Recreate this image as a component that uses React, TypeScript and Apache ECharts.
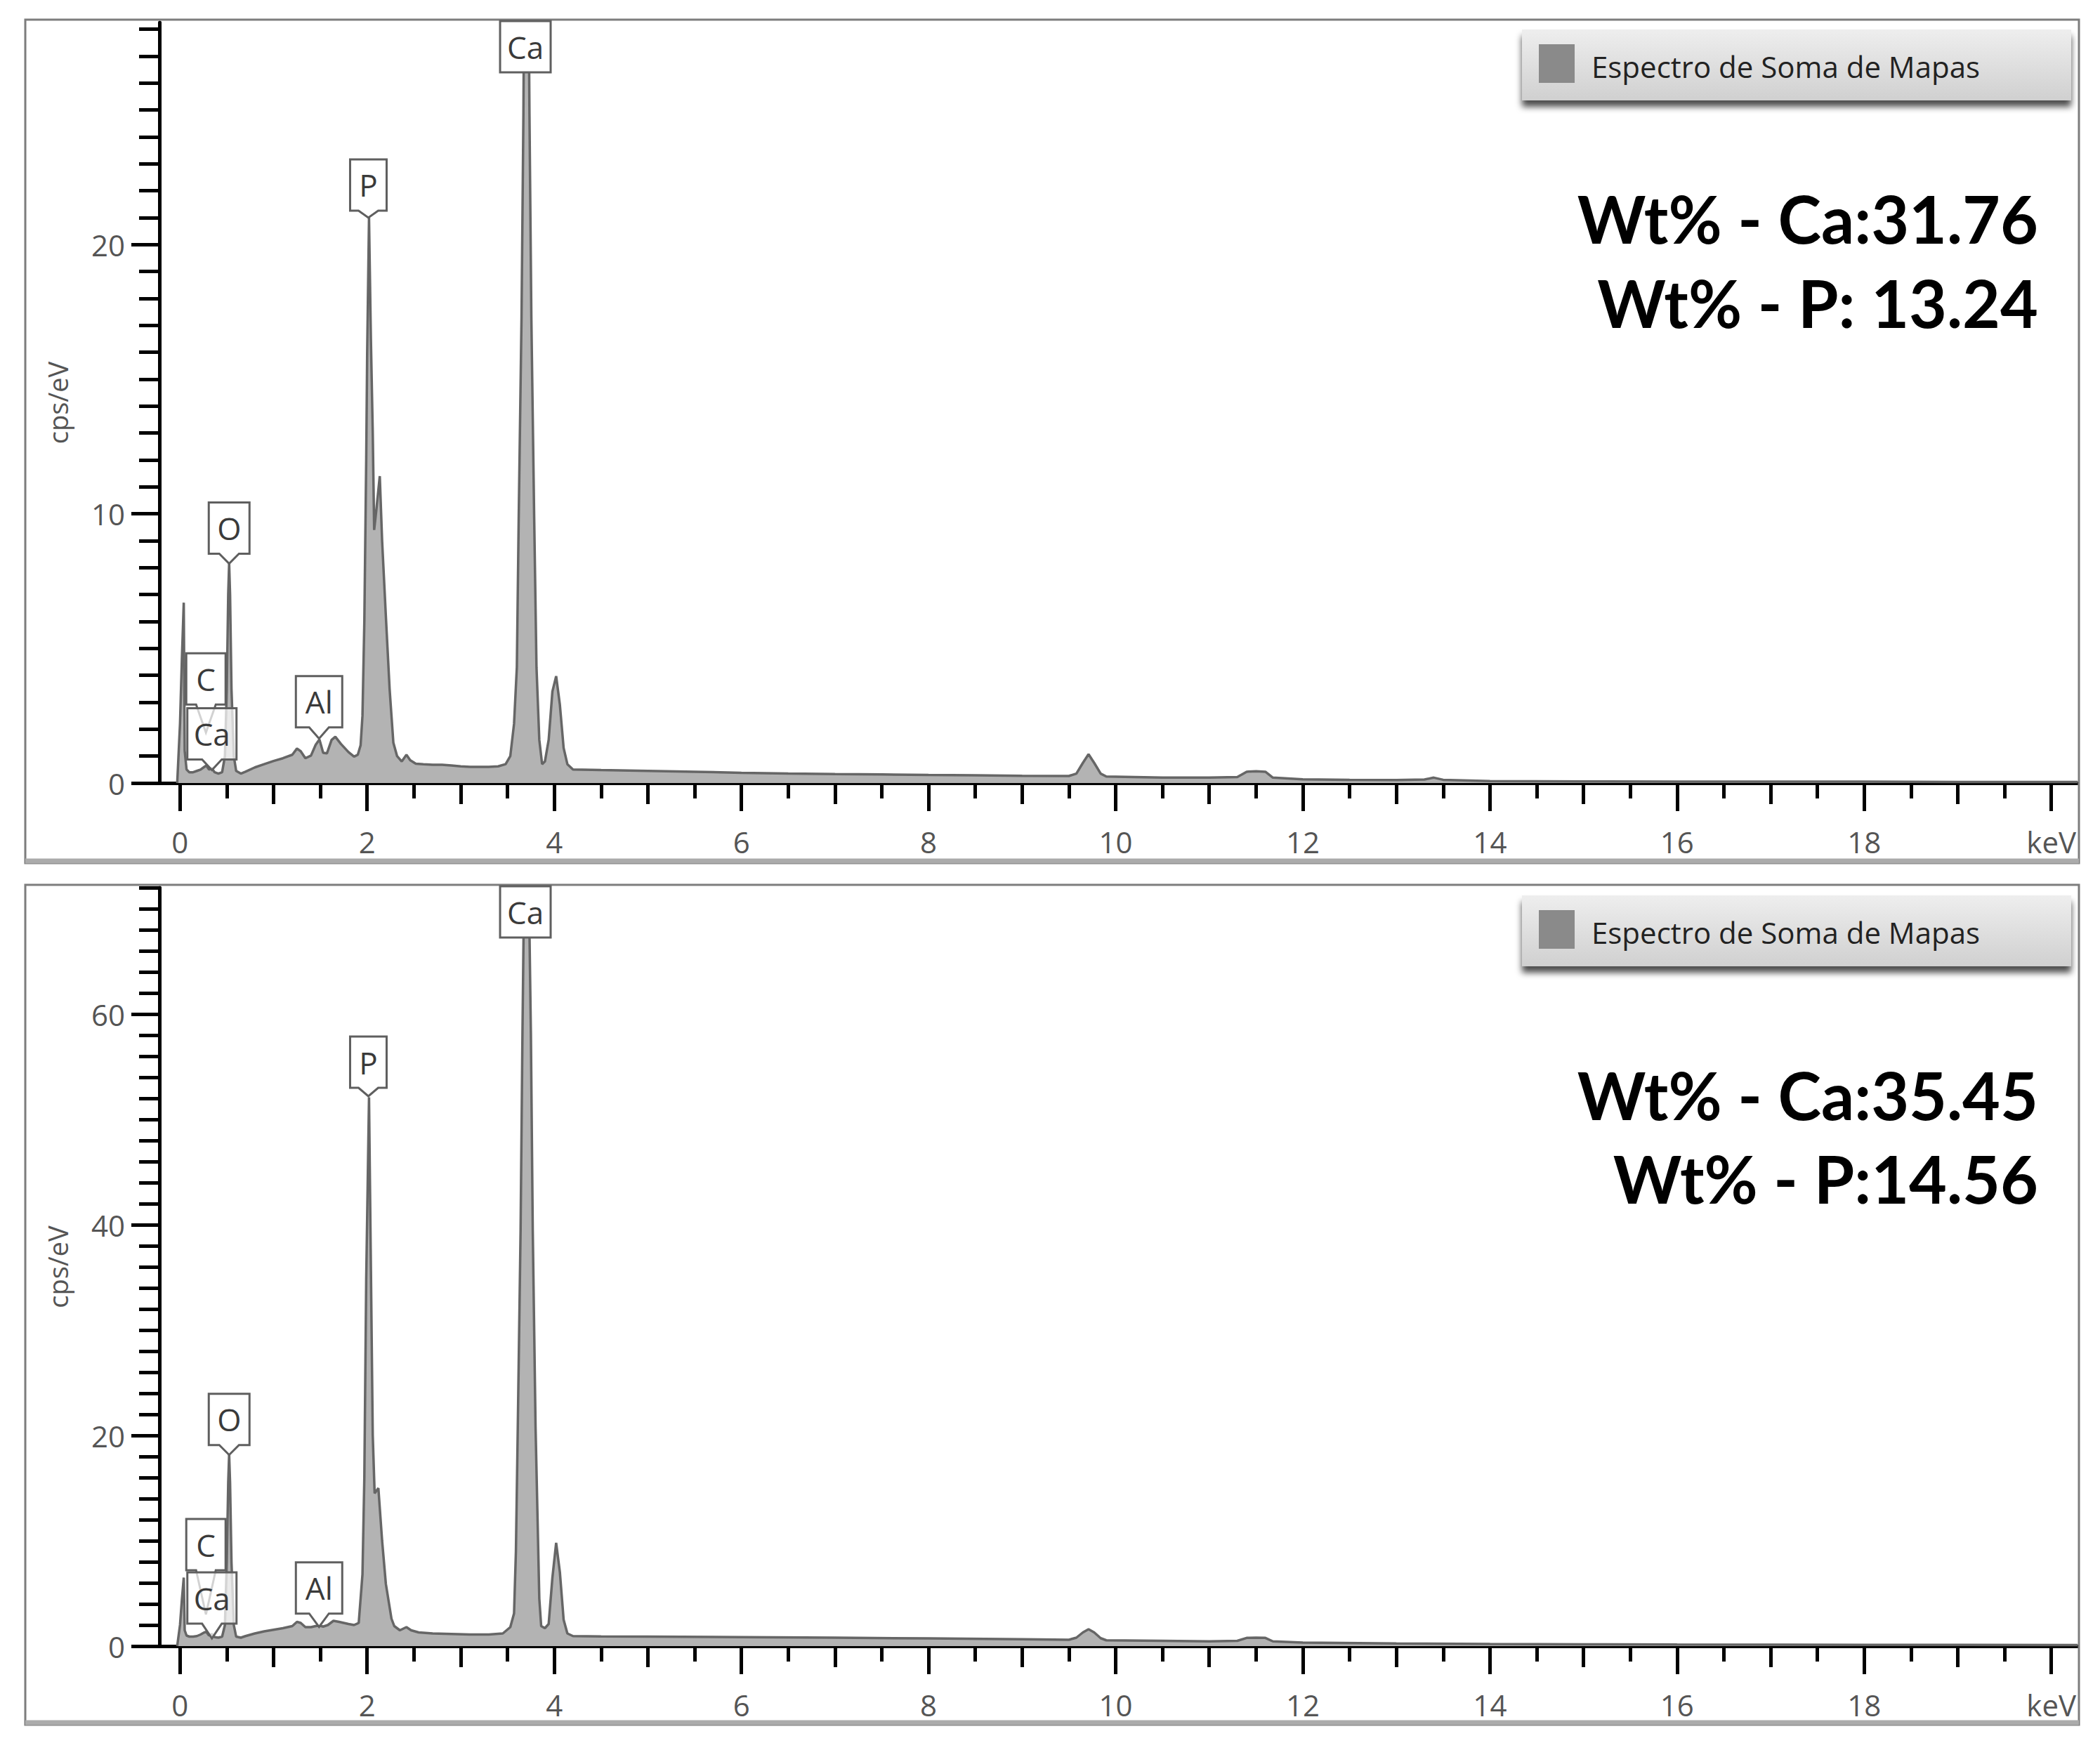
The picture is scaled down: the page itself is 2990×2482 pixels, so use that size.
import React, { useEffect, useRef } from 'react';
import * as echarts from 'echarts';

const W = 2990;
const H = 2482;

// ---------- DATA ----------
// EDS spectrum, upper panel: [energy keV, counts cps/eV]
const topSpectrum: [number, number][] = [
  [-0.03, 0], [0.0, 2.2], [0.02, 4.6], [0.04, 6.7], [0.05, 1.2], [0.07, 0.5], [0.1, 0.4], [0.14, 0.4],
  [0.18, 0.45], [0.22, 0.5], [0.26, 0.6], [0.28, 0.65], [0.31, 0.5], [0.34, 0.55], [0.37, 0.4], [0.41, 0.35],
  [0.45, 0.4], [0.48, 1.0], [0.5, 3.5], [0.515, 7.0], [0.525, 8.15], [0.535, 7.0], [0.55, 3.5], [0.575, 1.0],
  [0.6, 0.45], [0.65, 0.35], [0.7, 0.42], [0.8, 0.58], [0.9, 0.7], [1.0, 0.82], [1.1, 0.92], [1.2, 1.05],
  [1.25, 1.28], [1.29, 1.18], [1.34, 0.92], [1.4, 1.02], [1.45, 1.42], [1.49, 1.62], [1.53, 1.12], [1.57, 1.1],
  [1.62, 1.6], [1.66, 1.72], [1.72, 1.45], [1.8, 1.15], [1.86, 0.98], [1.9, 1.05], [1.93, 1.4], [1.95, 2.5],
  [1.97, 6.0], [1.99, 12.0], [2.0, 15.9], [2.02, 21.0], [2.04, 16.5], [2.06, 13.0], [2.075, 9.4], [2.1, 10.2],
  [2.135, 11.4], [2.16, 9.0], [2.2, 6.2], [2.24, 3.5], [2.28, 1.5], [2.32, 1.0], [2.37, 0.8], [2.42, 1.05],
  [2.46, 0.85], [2.52, 0.72], [2.6, 0.7], [2.7, 0.68], [2.8, 0.68], [2.9, 0.65], [3.0, 0.62], [3.1, 0.6],
  [3.2, 0.6], [3.3, 0.6], [3.4, 0.62], [3.48, 0.7], [3.53, 1.0], [3.57, 2.2], [3.6, 4.3], [3.62, 9.9],
  [3.65, 17.3], [3.67, 24.8], [3.7, 42.0], [3.735, 24.8], [3.755, 17.3], [3.785, 9.9], [3.81, 4.3], [3.84, 1.6],
  [3.87, 0.7], [3.9, 0.8], [3.94, 1.6], [3.98, 3.4], [4.02, 3.97], [4.06, 2.9], [4.1, 1.3], [4.14, 0.7],
  [4.2, 0.5], [4.5, 0.48], [5.0, 0.45], [5.5, 0.42], [6.0, 0.38], [6.5, 0.35], [7.0, 0.33], [7.5, 0.32],
  [8.0, 0.3], [8.5, 0.29], [9.0, 0.27], [9.5, 0.26], [9.58, 0.35], [9.65, 0.75], [9.71, 1.07], [9.77, 0.75],
  [9.84, 0.35], [9.9, 0.24], [10.5, 0.2], [11.0, 0.2], [11.3, 0.22], [11.4, 0.42], [11.5, 0.44], [11.6, 0.42],
  [11.68, 0.2], [12.0, 0.14], [12.5, 0.12], [13.0, 0.11], [13.3, 0.13], [13.4, 0.2], [13.5, 0.12], [14.0, 0.07],
  [15.0, 0.06], [16.0, 0.05], [17.0, 0.05], [18.0, 0.05], [19.0, 0.04], [20.28, 0.04],
];

// EDS spectrum, lower panel
const bottomSpectrum: [number, number][] = [
  [-0.03, 0], [0.0, 2.0], [0.02, 4.4], [0.04, 6.5], [0.05, 1.5], [0.07, 1.0], [0.1, 0.9], [0.14, 0.9],
  [0.18, 0.95], [0.22, 1.1], [0.26, 1.3], [0.28, 1.35], [0.31, 1.0], [0.34, 1.15], [0.37, 0.85], [0.41, 0.8],
  [0.45, 0.9], [0.48, 2.0], [0.5, 8.0], [0.515, 15.5], [0.525, 18.2], [0.535, 15.5], [0.55, 8.0], [0.575, 2.0],
  [0.6, 0.9], [0.65, 0.8], [0.7, 0.95], [0.8, 1.2], [0.9, 1.4], [1.0, 1.55], [1.1, 1.7], [1.2, 1.9],
  [1.25, 2.3], [1.29, 2.2], [1.34, 1.8], [1.4, 1.8], [1.45, 1.9], [1.49, 1.95], [1.53, 1.85], [1.58, 2.0],
  [1.64, 2.4], [1.7, 2.3], [1.8, 2.1], [1.86, 2.0], [1.91, 2.2], [1.95, 6.8], [1.97, 16.0], [1.99, 34.8],
  [2.02, 52.1], [2.04, 36.0], [2.06, 20.0], [2.08, 14.5], [2.12, 15.0], [2.16, 10.0], [2.2, 5.9], [2.26, 2.6],
  [2.29, 1.9], [2.35, 1.5], [2.42, 1.8], [2.47, 1.5], [2.55, 1.3], [2.7, 1.2], [2.9, 1.15], [3.1, 1.1],
  [3.3, 1.1], [3.45, 1.2], [3.53, 1.8], [3.57, 3.1], [3.59, 9.0], [3.61, 20.8], [3.64, 39.5], [3.66, 58.2],
  [3.7, 90.0], [3.75, 58.2], [3.77, 39.5], [3.8, 20.8], [3.84, 4.5], [3.86, 1.9], [3.9, 1.7], [3.94, 2.1],
  [3.98, 6.5], [4.02, 9.8], [4.06, 7.0], [4.1, 2.5], [4.14, 1.2], [4.2, 0.95], [4.5, 0.92], [5.0, 0.9],
  [6.0, 0.85], [7.0, 0.8], [8.0, 0.73], [9.0, 0.65], [9.5, 0.6], [9.58, 0.8], [9.65, 1.3], [9.71, 1.6],
  [9.77, 1.3], [9.84, 0.75], [9.9, 0.55], [10.5, 0.5], [11.0, 0.45], [11.3, 0.5], [11.4, 0.78], [11.5, 0.8],
  [11.6, 0.78], [11.68, 0.45], [12.0, 0.33], [13.0, 0.25], [14.0, 0.2], [15.0, 0.17], [16.0, 0.15], [18.0, 0.12],
  [20.28, 0.1],
];

// Peak identification labels
const labelNames = ['C', 'Ca', 'O', 'Al', 'P', 'Ca'];
const labelKeV = [0.277, 0.341, 0.525, 1.486, 2.013, 3.691];
// value at which each label's pointer ends (null = label pinned at top of axis)
const topLabelTips: (number | null)[] = [1.87, 0.48, 8.15, 1.65, 21.0, null];
const bottomLabelTips: (number | null)[] = [3.0, 0.73, 18.15, 1.82, 52.2, null];

// Quantification text
const wtCa = ['31.76', '35.45'];
const wtP = ['13.24', '14.56'];
const legendName = 'Espectro de Soma de Mapas';
const xUnit = 'keV';
const yName = 'cps/eV';

// Axis ticks
const xMajorTicks = [0, 2, 4, 6, 8, 10, 12, 14, 16, 18, 20];
const xMidTicks = [1, 3, 5, 7, 9, 11, 13, 15, 17, 19];
const xMinorTicks = [0.5, 1.5, 2.5, 3.5, 4.5, 5.5, 6.5, 7.5, 8.5, 9.5, 10.5, 11.5, 12.5, 13.5, 14.5, 15.5, 16.5, 17.5, 18.5, 19.5];
const topYMajorTicks = [0, 10, 20];
const topYMinorTicks = [0, 1, 2, 3, 4, 5, 6, 7, 8, 9, 10, 11, 12, 13, 14, 15, 16, 17, 18, 19, 20, 21, 22, 23, 24, 25, 26, 27, 28];
const bottomYMajorTicks = [0, 20, 40, 60];
const bottomYMinorTicks = [0, 2, 4, 6, 8, 10, 12, 14, 16, 18, 20, 22, 24, 26, 28, 30, 32, 34, 36, 38, 40, 42, 44, 46, 48, 50, 52, 54, 56, 58, 60, 62, 64, 66, 68, 70, 72];

// ---------- LAYOUT / STYLE ----------
const FONT = '"Open Sans", sans-serif';
const BOLD_FONT = 'Lato, "Open Sans", sans-serif';
const gridLeft = 227;
const gridWidth = 2731;
const xMin = -0.22;
const xMax = 20.28;
const panels = [
  {
    frameTop: 28, frameBottom: 1229, gridTop: 32, gridHeight: 1083, yMax: 28.25,
    yMajor: topYMajorTicks, yMinor: topYMinorTicks, data: topSpectrum, tips: topLabelTips,
    pointer: [40, 15, 14, 16, 10, 0], legendTop: 42, wtY: [307, 427],
    wtText: ['Wt% - Ca:' + wtCa[0], 'Wt% - P: ' + wtP[0]],
  },
  {
    frameTop: 1260, frameBottom: 2456, gridTop: 1264, gridHeight: 1080, yMax: 72,
    yMajor: bottomYMajorTicks, yMinor: bottomYMinorTicks, data: bottomSpectrum, tips: bottomLabelTips,
    pointer: [63, 21, 14, 19, 12, 0], legendTop: 1275, wtY: [1555, 1674],
    wtText: ['Wt% - Ca:' + wtCa[1], 'Wt% - P:' + wtP[1]],
  },
];
const boxWidths = [56, 70, 58, 66, 52, 72];
const BOX_H = 73;

function buildOption() {
  const grid: any[] = [];
  const xAxis: any[] = [];
  const yAxis: any[] = [];
  const series: any[] = [];
  panels.forEach((p, i) => {
    grid.push({ left: gridLeft, top: p.gridTop, width: gridWidth, height: p.gridHeight, outerBoundsMode: 'none', containLabel: false });
    const tickDefs: [number[], number, boolean][] = [
      [xMajorTicks, 40, true],
      [xMidTicks, 30, false],
      [xMinorTicks, 22, false],
    ];
    tickDefs.forEach(([ticks, len, main]) => {
      xAxis.push({
        type: 'value', gridIndex: i, min: xMin, max: xMax, position: 'bottom',
        axisLine: { show: main, onZero: false, lineStyle: { color: '#000', width: 5 } },
        axisTick: { show: true, customValues: ticks, length: len, lineStyle: { color: '#000', width: 5 } },
        axisLabel: main
          ? {
              show: true, customValues: xMajorTicks, margin: 62, fontSize: 42, color: '#555', fontFamily: FONT,
              formatter: (v: number) => (v === 20 ? xUnit : String(v)),
            }
          : { show: false },
        splitLine: { show: false },
      });
    });
    yAxis.push({
      type: 'value', gridIndex: i, min: 0, max: p.yMax, position: 'left',
      axisLine: { show: true, onZero: false, lineStyle: { color: '#000', width: 5 } },
      axisTick: { show: true, customValues: p.yMajor, length: 40, lineStyle: { color: '#000', width: 5 } },
      axisLabel: { show: true, customValues: p.yMajor, margin: 49, fontSize: 42, color: '#555', fontFamily: FONT },
      splitLine: { show: false },
      name: yName, nameLocation: 'middle', nameGap: 126, nameRotate: 90,
      nameTextStyle: { fontSize: 38, color: '#555', fontFamily: FONT },
    });
    yAxis.push({
      type: 'value', gridIndex: i, min: 0, max: p.yMax, position: 'left',
      axisLine: { show: false, onZero: false },
      axisTick: { show: true, customValues: p.yMinor, length: 29, lineStyle: { color: '#000', width: 5 } },
      axisLabel: { show: false },
      splitLine: { show: false },
    });
    series.push({
      type: 'line', xAxisIndex: i * 3, yAxisIndex: i * 2, data: p.data, symbol: 'none', clip: true,
      lineStyle: { color: '#666666', width: 3.5 },
      areaStyle: { color: '#b3b3b3', opacity: 1 },
      z: 2,
    });
  });
  return { animation: false, backgroundColor: '#fff', grid, xAxis, yAxis, series };
}

function textEl(x: number, y: number, text: string, size: number, color: string, family: string, align: string, weight = 'normal', z = 60) {
  return {
    type: 'text', x, y, z,
    style: {
      text, fontSize: size, fontFamily: family, fontWeight: weight, fill: color,
      align, verticalAlign: 'middle', textAlign: align, textVerticalAlign: 'middle',
    },
  };
}

function buildGraphics(chart: any) {
  const els: any[] = [];
  panels.forEach((p, i) => {
    // frame
    els.push({
      type: 'rect', z: 1, shape: { x: 36, y: p.frameTop, width: 2924, height: p.frameBottom - p.frameTop },
      style: { fill: 'none', stroke: '#7d7d7d', lineWidth: 3 },
    });
    els.push({
      type: 'line', z: 1, shape: { x1: 36, y1: p.frameBottom - 3, x2: 2960, y2: p.frameBottom - 3 },
      style: { stroke: '#ababab', lineWidth: 7 },
    });
    // legend
    els.push({
      type: 'rect', z: 20, shape: { x: 2167, y: p.legendTop, width: 782, height: 101 },
      style: {
        fill: { type: 'linear', x: 0, y: 0, x2: 0, y2: 1, colorStops: [{ offset: 0, color: '#eeeeee' }, { offset: 1, color: '#d0d0d0' }] },
        shadowColor: 'rgba(0,0,0,0.7)', shadowBlur: 10, shadowOffsetY: 9,
      },
    });
    els.push({
      type: 'rect', z: 21, shape: { x: 2191, y: p.legendTop + 21, width: 51, height: 55 },
      style: { fill: '#8a8a8a' },
    });
    els.push(textEl(2266, p.legendTop + 52, legendName, 42, '#222222', FONT, 'left', 'normal', 21));
    // quantification
    p.wtText.forEach((t, k) => {
      els.push(textEl(2902, p.wtY[k] + 4, t, 93, '#000', BOLD_FONT, 'right', 'bold', 30));
    });
    // peak labels
    const xi = i * 3;
    const yi = i * 2;
    labelNames.forEach((name, k) => {
      const tipVal = p.tips[k];
      const bw = boxWidths[k];
      const hw = 14;
      let cx: number, tipY: number, bottomY: number;
      if (tipVal === null) {
        const pt = chart.convertToPixel({ xAxisIndex: xi, yAxisIndex: yi }, [labelKeV[k], p.yMax]);
        cx = pt[0];
        bottomY = pt[1] - 2 + BOX_H;
        tipY = bottomY;
      } else {
        const pt = chart.convertToPixel({ xAxisIndex: xi, yAxisIndex: yi }, [labelKeV[k], tipVal]);
        cx = pt[0];
        tipY = pt[1];
        bottomY = tipY - p.pointer[k];
      }
      const l = cx - bw / 2;
      const r = cx + bw / 2;
      const t = bottomY - BOX_H;
      const pts = tipY > bottomY + 0.5
        ? [[l, t], [r, t], [r, bottomY], [cx + hw, bottomY], [cx, tipY], [cx - hw, bottomY], [l, bottomY]]
        : [[l, t], [r, t], [r, bottomY], [l, bottomY]];
      const fill = k === 1 ? 'rgba(255,255,255,0.72)' : '#ffffff';
      els.push({
        type: 'polygon', z: 50 + k * 2, shape: { points: pts },
        style: { fill, stroke: '#5f5f5f', lineWidth: 3 },
      });
      els.push(textEl(cx, t + BOX_H / 2, name, 44, '#3a3a3a', FONT, 'center', 'normal', 51 + k * 2));
    });
  });
  return els;
}

export default function App() {
  const ref = useRef<HTMLDivElement>(null);
  useEffect(() => {
    if (!ref.current) return;
    const chart = echarts.init(ref.current, null, { renderer: 'svg', width: W, height: H });
    chart.setOption(buildOption() as any);
    chart.setOption({ graphic: buildGraphics(chart) } as any);
    return () => chart.dispose();
  }, []);
  return (
    <div
      ref={ref}
      style={{ position: 'absolute', left: 0, top: 0, width: W, height: H, background: '#fff' }}
    />
  );
}
